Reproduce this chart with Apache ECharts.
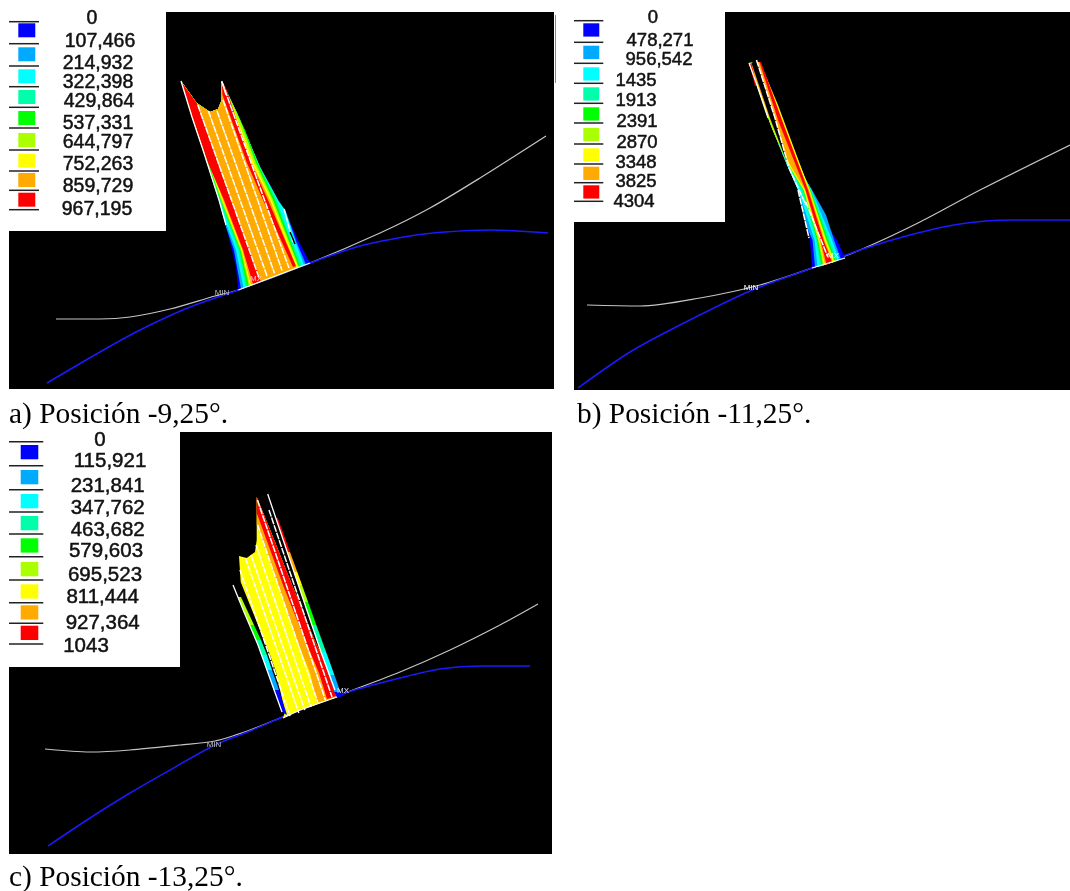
<!DOCTYPE html>
<html><head><meta charset="utf-8">
<style>html,body{margin:0;padding:0;background:#fff}#c{width:1070px;height:891px}</style>
<script src="https://cdn.jsdelivr.net/npm/echarts@6/dist/echarts.min.js"></script>
</head><body><div id="c"></div>
<script>
const levelColors=['#0000ff','#00aaff','#00ffff','#00ffaa','#00ff00','#aaff00','#ffff00','#ffaa00','#ff0000'];
const captions=['a) Posición -9,25°.','b) Posición -11,25°.','c) Posición -13,25°.'];

// legend contents
const labelsA=['0','107,466','214,932','322,398','429,864','537,331','644,797','752,263','859,729','967,195'];
const labelCxA=[92,100,98,98,99,98,98,98,98,97];
const labelCyA=[19,42,64,83,102,124,143,165,187,210];
const rulesA=[21.7,43.7,66,86.7,107.3,128,150,171,190.3,209.7];
const swatchA=[23.3,47.3,69.3,90,111,133,153.7,173,192.7];
const labelsB=['0','478,271','956,542','1435','1913','2391','2870','3348','3825','4304'];
const labelCxB=[653,660,659,636,636,637,637,636,636,634];
const labelCyB=[18,40.7,60,81,101,122,143,163,182,202];
const rulesB=[20.7,42.3,63.3,83.3,103.3,123,144,164,182.7,201.3];
const swatchB=[23.3,45.7,67.3,87.3,107.3,128,148.3,166.7,185.3];
const labelsC=['0','115,921','231,841','347,762','463,682','579,603','695,523','811,444','927,364','1043'];
const labelCxC=[100,110,107.7,107.7,107.7,106,105,102.7,102.7,86];
const labelCyC=[440,461,486.7,508,530.7,551.7,575,597.7,623,646.7];
const rulesC=[441.7,465.7,489.7,512,534,556.7,580,602.7,623.3,644];
const swatchC=[445,470,494,516,538.3,562,584.3,605.3,625.7];

// boundary curves (image pixel units)
const grayA=[[56,319],[100,319],[130,317],[170,309],[215,296],[238,290],[310,263],[380,233],[430,208],[480,178],[546,136]];
const blueA=[[47,383],[100,352],[140,330],[190,307],[238,290],[310,263],[360,246],[410,236],[445,232],[490,230],[548,233]];
const grayB=[[587,305],[640,306],[700,298],[760,285],[812,268],[860,250],[920,222],[980,190],[1070,145]];
const blueB=[[578,388],[630,352],[680,325],[750,291],[812,268],[860,250],[910,235],[960,224],[1010,220],[1070,220]];
const grayC=[[45,749],[90,752],[130,750],[180,745],[215,741],[250,730],[285,716],[345,693],[400,672],[450,650],[500,625],[538,604]];
const blueC=[[48,846],[90,818],[130,793],[170,770],[215,745],[250,731],[285,716],[345,693],[400,678],[440,669],[480,666],[530,666]];

// stress contours: [level, outline]
const contoursA=[
[0,[[181,81],[192,117],[203,150],[219,200],[232,250],[236,267],[238.3,290],[310,263],[298,240],[284,209],[281,207],[278,200],[260,167],[237,113],[221.7,81],[221.7,100],[218,109],[210,112],[196.7,103]]],
[1,[[226,227],[234,250],[241,289],[306,264.5],[296.5,242],[285,209],[281,207],[278,200],[260,167],[237,113],[221.7,81],[221.7,100],[218,109],[210,112],[196.7,103],[181,81],[192,117],[203,150],[219,200]]],
[2,[[224,218],[236,250],[243.5,288],[304,265],[295.5,242],[285,210],[278,200],[260,167],[237,113],[221.7,81],[221.7,100],[218,109],[210,112],[196.7,103],[181,81],[192,117],[203,150],[219,200]]],
[3,[[216,192],[221,205],[238,250],[245.5,287],[302,265.5],[288,232],[277,200],[264,175],[260,167],[237,113],[221.7,81],[221.7,100],[218,109],[210,112],[196.7,103],[181,81],[192,117],[203,150]]],
[4,[[207,163],[220.5,200],[239.5,250],[247,287],[300,266],[275,200],[257.5,163],[245,130],[237,113],[221.7,81],[221.7,100],[218,109],[210,112],[196.7,103],[181,81],[192,117],[203,150]]],
[5,[[198,135],[204,150],[221,200],[240.5,250],[249,286.5],[299,267],[273,200],[256,163],[240,120],[230.8,100],[221.7,81],[221.7,100],[218,109],[210,112],[196.7,103],[181,81],[192,117]]],
[6,[[192.5,117],[204.5,150],[222,200],[241.5,250],[250,285.5],[298,267.5],[271.5,200],[254,163],[235,113],[224,85],[221.7,81],[221.7,100],[218,109],[210,112],[196.7,103],[181,81]]],
[7,[[186,97],[205,150],[223,200],[242.3,250],[251,285],[296.5,268],[270,200],[252,163],[226,92],[221.7,81],[221.7,100],[218,109],[210,112],[196.7,103],[181,81]]],
[8,[[181.5,82],[196.7,103],[218,163],[231,200],[261,281],[253,284],[243,250],[224,200],[208,163],[190,110]]],
[8,[[221.7,81],[226,88],[251,163],[268,200],[296,266],[293,267],[263,200],[247,163],[222.5,95]]]
];
const contoursB=[
[0,[[749,63],[770,123],[787,165],[798,190],[807,228],[810,240],[812,268],[845,258],[837,240],[832,233],[812,190],[800,170],[783,123],[760,62]]],
[1,[[806,225],[812.5,240],[815,267],[841,259.5],[834,240],[826,215],[812,190],[800,170],[783,123],[760,62],[749,63],[770,123],[787,165],[798,190]]],
[2,[[800,195],[814.5,240],[817.5,267],[839,260],[832,240],[811.5,190],[800,170],[783,123],[760,62],[749,63],[770,123],[787,165],[798,190]]],
[3,[[790,168],[801,190],[816,240],[820,266.5],[837.5,261],[830,240],[811,190],[800,172],[797,160],[783,123],[760,62],[749,63],[770,123],[787,165]]],
[4,[[778.5,143],[790,168],[803,190],[817,240],[821.5,266],[836,261],[828,240],[810.5,190],[793,150],[783,123],[760,62],[749,63],[770,123]]],
[5,[[773,131],[787,163],[803.5,190],[818,240],[823,265.5],[835,261.5],[826.5,240],[810,190],[788,135],[783,123],[760,62],[749,63],[770,123]]],
[6,[[762,100],[778,140],[788,163],[804,190],[819,240],[824,265],[834,262],[825.5,240],[809.5,190],[778,105],[760,62],[749,63],[755,80]]],
[7,[[752,70],[772,125],[789,163],[805,190],[819.5,240],[825,265],[833,262],[824.5,240],[809,190],[780,120],[760,62],[749,63]]],
[8,[[759.5,62],[761,62],[782,120],[808,190],[823.5,240],[832,262],[826.5,264.5],[820.5,240],[805.5,190],[778,120]]],
[8,[[749.5,64],[751.5,64],[757,86],[755,86]]]
];
const gapB=[[751.5,63],[770,118],[789,168],[775,118],[756.5,60]];
const contoursC=[
[6,[[256.7,497],[256.7,540],[255,552],[246.7,558],[239,556],[240.7,582],[258,625],[269,652],[276,672],[285,712],[283,718],[300,710],[320,703],[337,697],[336,695],[330,673],[314.5,640],[292,585],[275,542]]],
[7,[[256.7,525],[297,640],[310,673],[317,703],[337,697],[336,695],[330,673],[314.5,640],[292,585],[275,542],[256.7,497]]],
[8,[[256.7,497],[275,542],[292,585],[314.5,640],[330,673],[336,696],[327,699],[319,673],[305,640],[283,585],[256.7,513]]],
// right strand, hot at the tip
[8,[[275.8,518],[277.8,518],[290,552],[287.2,552]]],
[7,[[287.2,552],[290,552],[297.3,572],[294,572]]],
[6,[[294,572],[297.3,572],[302,585],[298.4,585]]],
[5,[[298.4,585],[302,585],[308.1,602],[304.1,602]]],
[4,[[304.1,602],[308.1,602],[316.3,625],[311.8,625]]],
[3,[[311.8,625],[316.3,625],[326.1,652],[321,652]]],
[2,[[321,652],[326.1,652],[334.4,675],[328.7,675]]],
[1,[[328.7,675],[334.4,675],[340.4,692],[334.4,692]]],
[0,[[334.4,692],[340.4,692],[345,695],[337,698]]],
// left strand, cool at the base
[5,[[238,597],[241,597],[254,625],[249.5,625]]],
[4,[[249.5,625],[254,625],[261,640],[256,640]]],
[3,[[256,640],[261,640],[267,655],[261.5,655]]],
[2,[[261.5,655],[267,655],[272,670],[267,670]]],
[1,[[267,670],[272,670],[279,690],[273.5,690]]],
[0,[[273.5,690],[279,690],[287,715],[282,712]]]
];

// white mesh lines [x,y] pairs; thin, partly broken
const meshA=[[[197.8,105],[259.5,279]],[[208.4,111],[267,276]],[[217,111],[274.5,273.3]],[[223,100],[282,270.5]],[[222,82],[289,268]]];
const edgeA=[[[181,81],[192,117],[203,150],[219,200],[226,225]],[[221.7,81],[226,95]],[[238.3,290],[310,263]],[[284,209],[293,242]]];
const meshB=[[[756.5,60],[775,118],[789,168],[806,205]],[[805.7,201.7],[827.7,256.7]],[[798,190],[809,238]]];
const edgeB=[[[749,63],[757,85],[768,118]],[[812,268],[845,258]]];
const meshC=[[[240,570],[290,716]],[[245.4,558],[298.8,713]],[[251,555],[304.8,710]],[[256,545],[311,707]],[[257.6,525],[318,703]],[[257.4,500],[325.4,700]],[[269,510],[332,697]]];
const edgeC=[[[267.7,494],[321,652],[335,690]],[[233,585],[244,612],[258,645],[282,712]],[[283,718],[300,710],[320,703],[337,697]]];

const panels=[
 {x:9,y:12,w:545,h:377,box:[9,12,166,231],gray:grayA,blue:blueA,cont:contoursA,gaps:[],mesh:meshA,edge:edgeA,
  labels:labelsA,cx:labelCxA,cy:labelCyA,rules:rulesA,sw:swatchA,ruleX:[9,39],swX:[18.3,35.3],swH:14,font:19.5,
  tags:[['MIN',222,293,'#bdbdbd'],['MX',256,279,'#ffc8c8']],
  extra:[[[290,232],[295,244]]]},
 {x:574,y:12,w:496,h:378,box:[574,12,725,222],gray:grayB,blue:blueB,cont:contoursB,gaps:[gapB],mesh:meshB,edge:edgeB,
  labels:labelsB,cx:labelCxB,cy:labelCyB,rules:rulesB,sw:swatchB,ruleX:[574,603.3],swX:[583.3,599.3],swH:13.3,font:18.5,
  tags:[['MIN',751,288,'#ffffff'],['MX',833,256,'#ffffff']],extra:[]},
 {x:9,y:432,w:543,h:422,box:[9,432,180,667],gray:grayC,blue:blueC,cont:contoursC,gaps:[],mesh:meshC,edge:edgeC,
  labels:labelsC,cx:labelCxC,cy:labelCyC,rules:rulesC,sw:swatchC,ruleX:[9,43.3],swX:[20.7,38.3],swH:14.3,font:20.5,
  tags:[['MIN',214,745,'#bdbdbd'],['MX',343,691,'#e0e0ff']],extra:[]}
];

const grid=[],xAxis=[],yAxis=[],series=[];
function custom(i,z,items,draw){
 series.push({type:'custom',xAxisIndex:i,yAxisIndex:i,z,clip:false,silent:true,
  coordinateSystem:'cartesian2d',data:items.map((_,k)=>[k]),
  encode:{x:0,y:0},
  renderItem:(p,api)=>draw(items[p.dataIndex],api)});
}
const polyDraw=(d,api)=>({type:'polygon',shape:{points:d.p.map(q=>api.coord(q))},style:{fill:d.c}});
const lineDraw=(d,api)=>({type:'polyline',shape:{points:d.p.map(q=>api.coord(q))},
  style:{fill:null,stroke:d.c,lineWidth:d.w,lineDash:d.dash||null}});
const textDraw=(d,api)=>{const q=api.coord([d.x,d.y]);return{type:'text',style:{text:d.t,x:q[0],y:q[1],
  fill:d.c,font:d.font,align:'center',verticalAlign:'middle',stroke:d.s||null,lineWidth:d.s?0.5:0}}};

panels.forEach((P,i)=>{
 grid.push({left:P.x,top:P.y,width:P.w,height:P.h,show:true,backgroundColor:'#000',borderWidth:0,containLabel:false});
 xAxis.push({type:'value',gridIndex:i,min:P.x,max:P.x+P.w,show:false});
 yAxis.push({type:'value',gridIndex:i,min:P.y,max:P.y+P.h,inverse:true,show:false});
 series.push({type:'line',xAxisIndex:i,yAxisIndex:i,z:2,data:P.gray,smooth:.3,showSymbol:false,silent:true,lineStyle:{color:'#c4c4c4',width:1.2}});
 series.push({type:'line',xAxisIndex:i,yAxisIndex:i,z:3,data:P.blue,smooth:.3,showSymbol:false,silent:true,lineStyle:{color:'#1a1aff',width:1.5}});
 custom(i,4,P.cont.map(c=>({c:levelColors[c[0]],p:c[1]})),polyDraw);
 custom(i,5,P.gaps.map(g=>({c:'#000',p:g})),polyDraw);
 custom(i,6,[...P.mesh.map(m=>({c:'#fff',w:1.5,dash:[7,1],p:m})),...P.edge.map(m=>({c:'#fff',w:1.3,p:m})),...P.extra.map(m=>({c:'#000',w:1.5,p:m}))],lineDraw);
 custom(i,7,P.tags.map(t=>({t:t[0],x:t[1],y:t[2],c:t[3],font:'8px "Liberation Sans"'})),textDraw);
 // legend
 const b=P.box;
 custom(i,8,[{c:'#fff',p:[[b[0],b[1]],[b[2],b[1]],[b[2],b[3]],[b[0],b[3]]]}],polyDraw);
 custom(i,9,P.sw.map((t,k)=>({c:levelColors[k],p:[[P.swX[0],t],[P.swX[1],t],[P.swX[1],t+P.swH],[P.swX[0],t+P.swH]]})),polyDraw);
 custom(i,9,P.rules.map(y=>({c:'#222',w:1.5,p:[[P.ruleX[0],y],[P.ruleX[1],y]]})),lineDraw);
 custom(i,10,P.labels.map((t,k)=>({t,x:P.cx[k],y:P.cy[k],c:'#111',s:'#111',font:P.font+'px "Liberation Sans"'})),textDraw);
});

const capStyle={fontFamily:'"Liberation Serif"',fontSize:29.4,fontWeight:'normal',color:'#000'};
const chart=echarts.init(document.getElementById('c'),null,{renderer:'canvas',width:1070,height:891});
chart.setOption({animation:false,backgroundColor:'#fff',
 title:[{text:captions[0],left:4,top:396,textStyle:capStyle},
        {text:captions[1],left:572,top:396,textStyle:capStyle},
        {text:captions[2],left:4,top:859,textStyle:capStyle}],
 graphic:[{type:'line',shape:{x1:555.5,y1:15,x2:555.5,y2:83},style:{stroke:'#888',lineWidth:1}}],
 grid,xAxis,yAxis,series});
</script></body></html>
